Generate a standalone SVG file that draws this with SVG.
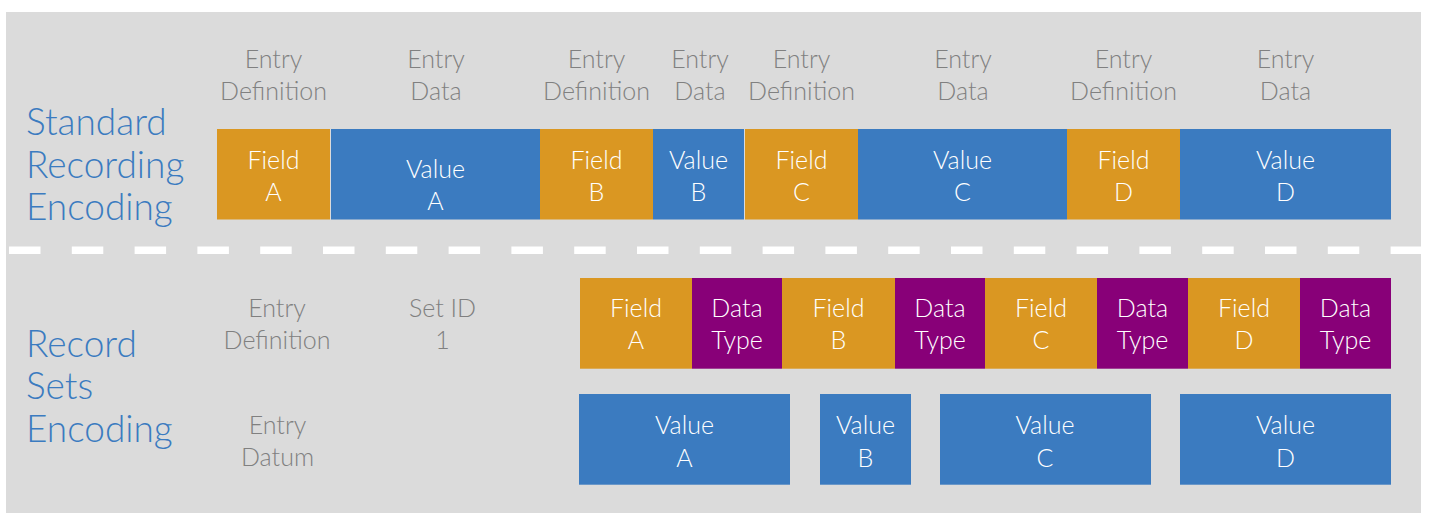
<svg xmlns="http://www.w3.org/2000/svg" width="1429" height="513" viewBox="0 0 1429 513">
<style>
text{font-family:Lato,"Noto Sans","Liberation Sans",sans-serif;font-weight:300;text-anchor:middle}
.lbl{fill:#808080;font-size:25px}
.ttl{fill:#3b7bc0;font-size:37px;text-anchor:start}
.bx{fill:#ffffff;font-size:25px}
.fld{fill:#da9722}
.val{fill:#3b7bc0}
.typ{fill:#880078}
</style>
<rect x="0" y="0" width="1429" height="513" fill="#ffffff"/>
<rect x="6" y="12" width="1415" height="501" fill="#dbdbdb"/>
<g id="separator">
<line x1="9" y1="250.3" x2="1421" y2="250.3" stroke="#ffffff" stroke-width="7.5" stroke-dasharray="31.5 31.3"/>
</g>
<g id="title-standard"><text class="ttl" x="26" y="135">Standard</text><text class="ttl" x="26" y="178">Recording</text><text class="ttl" x="26" y="220">Encoding</text></g>
<g id="title-record"><text class="ttl" x="26" y="357">Record</text><text class="ttl" x="26" y="398.5">Sets</text><text class="ttl" x="26" y="441.5">Encoding</text></g>
<g id="labels-top">
<text class="lbl" x="273.5" y="68">Entry</text><text class="lbl" x="273.5" y="100">Definition</text>
<text class="lbl" x="436" y="68">Entry</text><text class="lbl" x="436" y="100">Data</text>
<text class="lbl" x="596.5" y="68">Entry</text><text class="lbl" x="596.5" y="100">Definition</text>
<text class="lbl" x="700" y="68">Entry</text><text class="lbl" x="700" y="100">Data</text>
<text class="lbl" x="801.5" y="68">Entry</text><text class="lbl" x="801.5" y="100">Definition</text>
<text class="lbl" x="963" y="68">Entry</text><text class="lbl" x="963" y="100">Data</text>
<text class="lbl" x="1123.5" y="68">Entry</text><text class="lbl" x="1123.5" y="100">Definition</text>
<text class="lbl" x="1285.5" y="68">Entry</text><text class="lbl" x="1285.5" y="100">Data</text>
</g>
<g id="labels-bottom">
<text class="lbl" x="277" y="317">Entry</text><text class="lbl" x="277" y="349">Definition</text>
<text class="lbl" x="442.5" y="317">Set ID</text><text class="lbl" x="442.5" y="349">1</text>
<text class="lbl" x="277.5" y="434">Entry</text><text class="lbl" x="277.5" y="466">Datum</text>
</g>
<g id="std-field-a"><rect class="fld" x="217" y="129" width="113" height="90.5"/><text class="bx" x="273.5" y="169.3">Field</text><text class="bx" x="273.5" y="201">A</text></g>
<g id="std-value-a"><rect class="val" x="331" y="129" width="209" height="90.5"/><text class="bx" x="435.5" y="178.3">Value</text><text class="bx" x="435.5" y="210">A</text></g>
<g id="std-field-b"><rect class="fld" x="540" y="129" width="113" height="90.5"/><text class="bx" x="596.5" y="169.3">Field</text><text class="bx" x="596.5" y="201">B</text></g>
<g id="std-value-b"><rect class="val" x="653" y="129" width="91" height="90.5"/><text class="bx" x="698.5" y="169.3">Value</text><text class="bx" x="698.5" y="201">B</text></g>
<g id="std-field-c"><rect class="fld" x="745" y="129" width="113" height="90.5"/><text class="bx" x="801.5" y="169.3">Field</text><text class="bx" x="801.5" y="201">C</text></g>
<g id="std-value-c"><rect class="val" x="858" y="129" width="209" height="90.5"/><text class="bx" x="962.5" y="169.3">Value</text><text class="bx" x="962.5" y="201">C</text></g>
<g id="std-field-d"><rect class="fld" x="1067" y="129" width="113" height="90.5"/><text class="bx" x="1123.5" y="169.3">Field</text><text class="bx" x="1123.5" y="201">D</text></g>
<g id="std-value-d"><rect class="val" x="1180" y="129" width="211" height="90.5"/><text class="bx" x="1285.5" y="169.3">Value</text><text class="bx" x="1285.5" y="201">D</text></g>
<g id="rs-field-a"><rect class="fld" x="580" y="278" width="112" height="90.7"/><text class="bx" x="636" y="316.7">Field</text><text class="bx" x="636" y="349.3">A</text></g>
<g id="rs-type-a"><rect class="typ" x="692" y="278" width="90" height="90.7"/><text class="bx" x="737" y="316.7">Data</text><text class="bx" x="737" y="349.3">Type</text></g>
<g id="rs-field-b"><rect class="fld" x="782" y="278" width="113" height="90.7"/><text class="bx" x="838.5" y="316.7">Field</text><text class="bx" x="838.5" y="349.3">B</text></g>
<g id="rs-type-b"><rect class="typ" x="895" y="278" width="90" height="90.7"/><text class="bx" x="940" y="316.7">Data</text><text class="bx" x="940" y="349.3">Type</text></g>
<g id="rs-field-c"><rect class="fld" x="985" y="278" width="112" height="90.7"/><text class="bx" x="1041" y="316.7">Field</text><text class="bx" x="1041" y="349.3">C</text></g>
<g id="rs-type-c"><rect class="typ" x="1097" y="278" width="91" height="90.7"/><text class="bx" x="1142.5" y="316.7">Data</text><text class="bx" x="1142.5" y="349.3">Type</text></g>
<g id="rs-field-d"><rect class="fld" x="1188" y="278" width="112" height="90.7"/><text class="bx" x="1244" y="316.7">Field</text><text class="bx" x="1244" y="349.3">D</text></g>
<g id="rs-type-d"><rect class="typ" x="1300" y="278" width="91" height="90.7"/><text class="bx" x="1345.5" y="316.7">Data</text><text class="bx" x="1345.5" y="349.3">Type</text></g>
<g id="rs-value-a"><rect class="val" x="579" y="394" width="211" height="90.7"/><text class="bx" x="684.5" y="434">Value</text><text class="bx" x="684.5" y="466.5">A</text></g>
<g id="rs-value-b"><rect class="val" x="820" y="394" width="91" height="90.7"/><text class="bx" x="865.5" y="434">Value</text><text class="bx" x="865.5" y="466.5">B</text></g>
<g id="rs-value-c"><rect class="val" x="940" y="394" width="211" height="90.7"/><text class="bx" x="1045" y="434">Value</text><text class="bx" x="1045" y="466.5">C</text></g>
<g id="rs-value-d"><rect class="val" x="1180" y="394" width="211" height="90.7"/><text class="bx" x="1285.5" y="434">Value</text><text class="bx" x="1285.5" y="466.5">D</text></g>
<g id="connectors"/>
</svg>
